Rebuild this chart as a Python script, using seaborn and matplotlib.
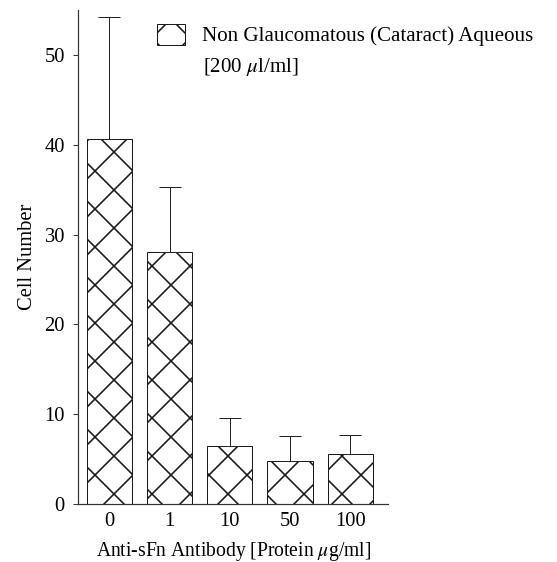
import numpy as np
import pandas as pd
import matplotlib
matplotlib.use("Agg")
import matplotlib.pyplot as plt
import seaborn as sns
from matplotlib.patches import Patch

# ---- data ----
categories = ["0", "1", "10", "50", "100"]
cell_number = [40.6, 28.1, 6.4, 4.8, 5.5]
error_upper = [13.6, 7.2, 3.1, 2.8, 2.2]
legend_label = "Non Glaucomatous (Cataract) Aqueous"
legend_label2 = "[200 $\\mu$l/ml]"
x_label = "Anti-sFn Antibody [Protein $\\mu$g/ml]"
y_label = "Cell Number"
y_ticks = [0, 10, 20, 30, 40, 50]

DPI = 228
PX = 72.0 / DPI  # points per pixel

sns.set_theme(style="ticks")
plt.rcParams["font.family"] = ["Liberation Serif", "DejaVu Serif"]
plt.rcParams["mathtext.fontset"] = "stix"
plt.rcParams["hatch.linewidth"] = 1.6 * PX
plt.rcParams["hatch.color"] = "black"
plt.rcParams["text.color"] = "black"
plt.rcParams["axes.labelcolor"] = "black"
plt.rcParams["xtick.labelcolor"] = "black"
plt.rcParams["ytick.labelcolor"] = "black"

fs = 20.5 * PX
fs_xl = 19.6 * PX
fs_leg = 21 * PX

df = pd.DataFrame({"dose": categories, "cells": cell_number})

fig = plt.figure(figsize=(557 / DPI, 562 / DPI), dpi=DPI)
ax = fig.add_axes([0.140, 0.1037, 0.557, 0.878])

sns.barplot(data=df, x="dose", y="cells", order=categories, ax=ax,
            color="white", edgecolor="#1a1a1a", linewidth=1.0 * PX,
            width=0.75, errorbar=None, hatch="xx")
for p in ax.patches:
    p.set_hatch("xx")
    p.set_facecolor("white")

ax.errorbar(categories, cell_number,
            yerr=[np.zeros(len(error_upper)), error_upper],
            fmt="none", ecolor="#222222", elinewidth=1.0 * PX,
            capsize=11 * PX, capthick=1.0 * PX, zorder=1)

ax.set_xlim(-0.52, 4.63)
ax.set_ylim(0, 55)
ax.set_yticks(y_ticks)
ax.set_xlabel(x_label, fontsize=fs_xl, labelpad=9 * PX)
ax.set_ylabel(y_label, fontsize=fs, labelpad=7 * PX)
ax.tick_params(axis="y", length=5 * PX, width=1.0 * PX, pad=8 * PX,
               labelsize=fs, color="#333333")
ax.tick_params(axis="x", length=0, pad=8 * PX, labelsize=fs)
sns.despine(ax=ax)
for s in ["left", "bottom"]:
    ax.spines[s].set_linewidth(1.2 * PX)
    ax.spines[s].set_color("#333333")

handle = Patch(facecolor="white", edgecolor="#1a1a1a", hatch="xx",
               linewidth=1.0 * PX)
fig.legend([handle], [legend_label], loc="upper left",
           bbox_to_anchor=(157 / 557, 1 - 24 / 562), frameon=False,
           fontsize=fs_leg,
           handlelength=28 / 21, handleheight=24 / 21, handletextpad=17 / 21,
           borderpad=0, borderaxespad=0)
fig.text(203 / 557, 1 - 67 / 562, legend_label2, fontsize=fs_leg,
         ha="left", va="center")

fig.savefig("out.png", dpi=DPI, facecolor="white")
